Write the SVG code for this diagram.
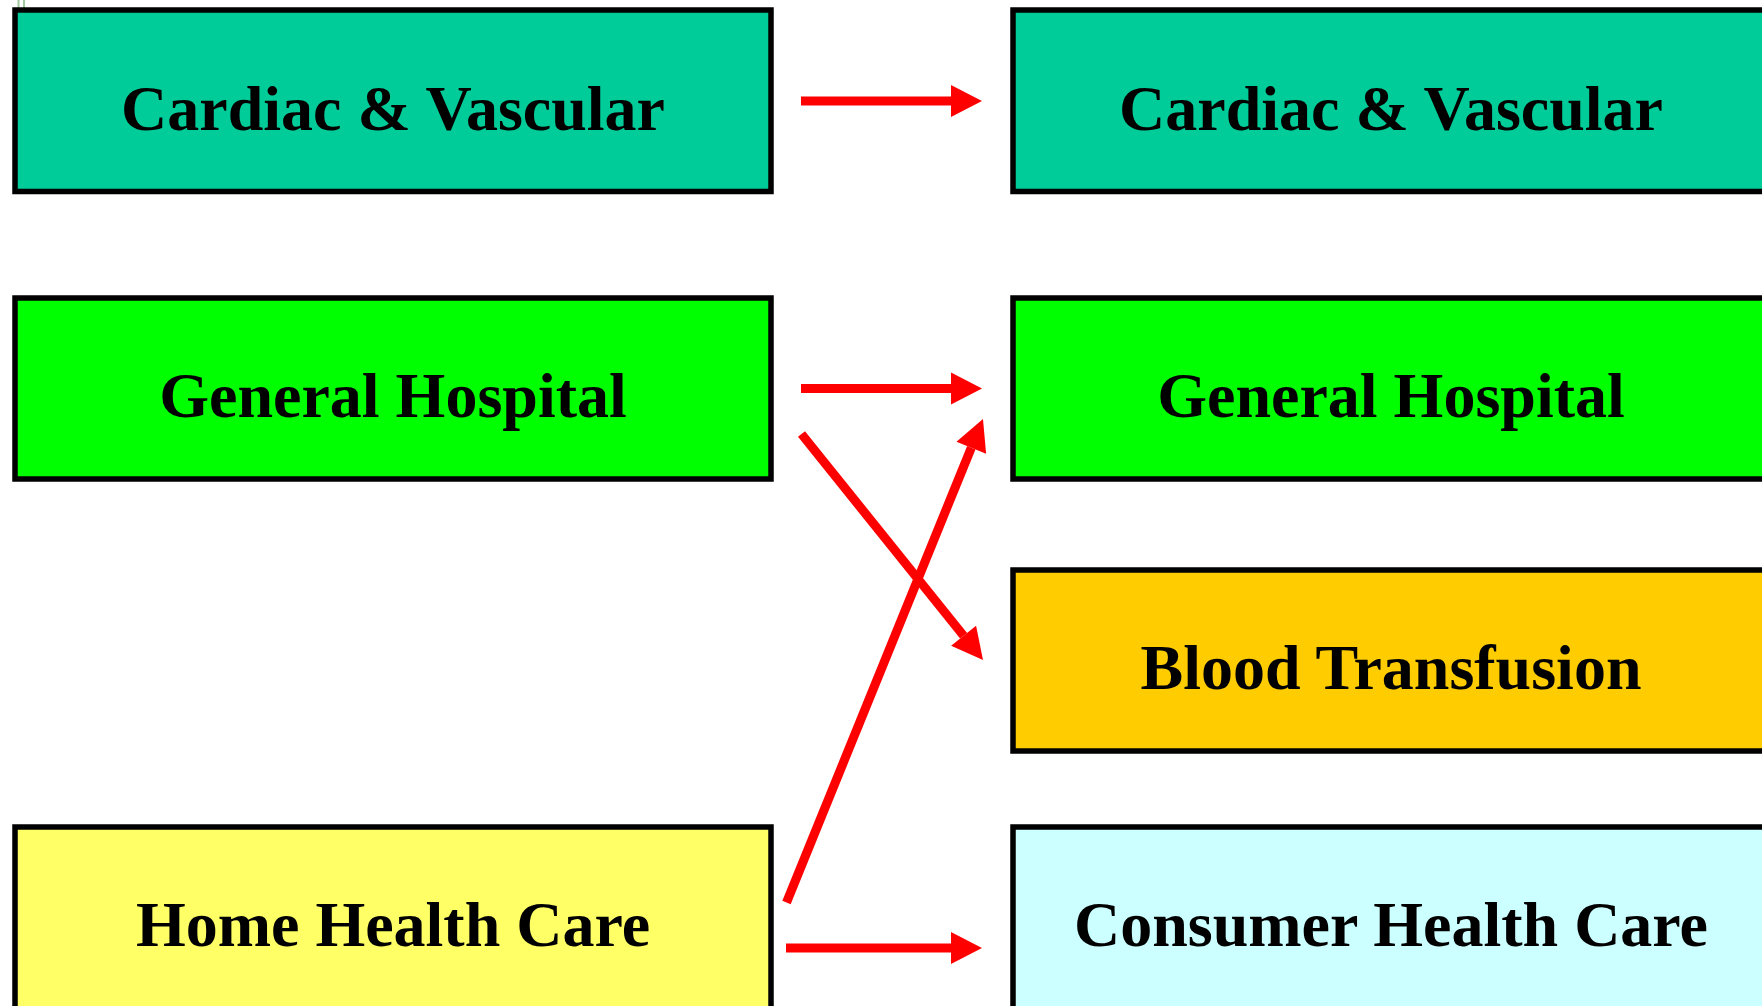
<svg xmlns="http://www.w3.org/2000/svg" width="1762" height="1006" viewBox="0 0 1762 1006">
<style>
.box{stroke:#000;stroke-width:5.5}
.lbl{font-family:"Liberation Serif","Times New Roman",serif;font-weight:bold;font-size:64px;fill:#000;text-anchor:middle}
.conn{stroke:#ff0000;stroke-width:9;fill:none;marker-end:url(#ah)}
</style>
<defs>
<marker id="ah" markerUnits="userSpaceOnUse" markerWidth="32" markerHeight="34" refX="0" refY="16" orient="auto" viewBox="0 0 32 32" overflow="visible">
<path d="M0,0 L31,16 L0,32 z" fill="#ff0000"/>
</marker>
</defs>
<rect width="1762" height="1006" fill="#fff"/>
<g stroke="#9fc89f" stroke-width="2">
<line x1="18.5" y1="0" x2="18.5" y2="8"/>
<line x1="24" y1="0" x2="24" y2="8"/>
</g>
<g id="l-cardiac">
<rect class="box" x="15" y="10" width="756" height="181.5" fill="#00cc99"/>
<text class="lbl" x="393" y="130">Cardiac &amp; Vascular</text>
</g>
<g id="l-general">
<rect class="box" x="15" y="298" width="756" height="181" fill="#00ff00"/>
<text class="lbl" x="393" y="417">General Hospital</text>
</g>
<g id="l-home">
<rect class="box" x="15" y="827" width="756" height="200" fill="#ffff66"/>
<text class="lbl" x="393" y="946">Home Health Care</text>
</g>
<g id="r-cardiac">
<rect class="box" x="1013" y="10" width="756" height="181.5" fill="#00cc99"/>
<text class="lbl" x="1391" y="130">Cardiac &amp; Vascular</text>
</g>
<g id="r-general">
<rect class="box" x="1013" y="298" width="756" height="181" fill="#00ff00"/>
<text class="lbl" x="1391" y="417">General Hospital</text>
</g>
<g id="r-blood">
<rect class="box" x="1013" y="570" width="756" height="181" fill="#ffcc00"/>
<text class="lbl" x="1391" y="689">Blood Transfusion</text>
</g>
<g id="r-consumer">
<rect class="box" x="1013" y="827" width="756" height="200" fill="#ccffff"/>
<text class="lbl" x="1391" y="946">Consumer Health Care</text>
</g>
<g id="connectors">
<line class="conn" x1="801" y1="101" x2="951" y2="101"/>
<line class="conn" x1="801" y1="388.5" x2="951" y2="388.5"/>
<line class="conn" x1="801.5" y1="434" x2="963.6" y2="635.8"/>
<line class="conn" x1="786.5" y1="902.5" x2="971.3" y2="447.7"/>
<line class="conn" x1="786" y1="948" x2="951" y2="948"/>
</g>
</svg>
